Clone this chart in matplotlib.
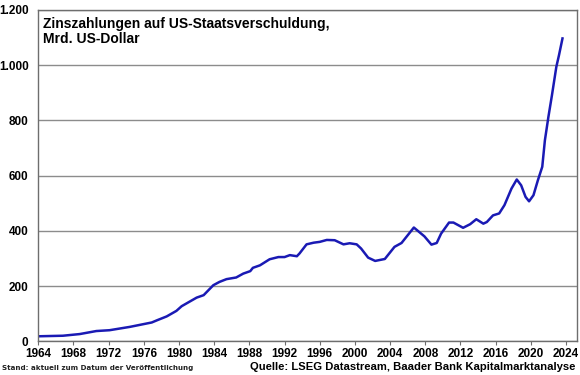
import matplotlib
matplotlib.use("Agg")
import matplotlib.pyplot as plt
from matplotlib.ticker import FuncFormatter

years = [1964, 1966.8, 1968.7, 1970.6, 1972.1, 1974.4, 1976.9, 1977.5, 1978.6, 1979.7,
         1980.3, 1982.0, 1982.8, 1983.9, 1984.6, 1985.4, 1986.5, 1987.3, 1988.1, 1988.4,
         1989.2, 1990.3, 1991.3, 1992.0, 1992.6, 1993.4, 1993.7, 1994.5, 1995.3, 1996.0,
         1996.8, 1997.7, 1998.7, 1999.4, 2000.2, 2000.7, 2001.5, 2002.3, 2003.4, 2004.5,
         2005.3, 2006.0, 2006.7, 2007.9, 2008.7, 2009.3, 2009.8, 2010.7, 2011.2, 2012.3,
         2013.1, 2013.8, 2014.6, 2015.0, 2015.7, 2016.4, 2017.0, 2017.8, 2018.4, 2018.9,
         2019.4, 2019.8, 2020.3, 2020.8, 2021.3, 2021.6, 2022.0, 2022.4, 2022.9, 2023.2,
         2023.6]
values = [18, 20, 26, 37, 40, 52, 68, 76, 90, 110,
          127, 158, 167, 203, 215, 225, 231, 245, 254, 266,
          275, 297, 305, 305, 312, 308, 318, 351, 357, 360,
          367, 366, 351, 355, 351, 336, 303, 291, 298, 342,
          356, 384, 412, 380, 350, 356, 390, 430, 430, 411,
          424, 442, 426, 432, 456, 463, 493, 553, 586, 565,
          523, 507, 529, 583, 632, 728, 813, 891, 994, 1036,
          1097]

x_ticks = list(range(1964, 2025, 4))
y_ticks = [0, 200, 400, 600, 800, 1000, 1200]

title = "Zinszahlungen auf US-Staatsverschuldung,\nMrd. US-Dollar"
note = "Stand: aktuell zum Datum der Veröffentlichung"
source = "Quelle: LSEG Datastream, Baader Bank Kapitalmarktanalyse"

W, H = 580, 375
fig = plt.figure(figsize=(W / 100, H / 100), dpi=100)
ax = fig.add_axes([38.3 / W, (H - 341.25) / H, (577 - 38.3) / W, (341.25 - 10) / H])

ax.plot(years, values, color="#1a1ab4", lw=1.8, solid_joinstyle="round")

ax.set_xlim(1964, 2025.25)
ax.set_ylim(0, 1200)
ax.set_xticks(x_ticks)
ax.set_yticks(y_ticks)
ax.yaxis.set_major_formatter(FuncFormatter(lambda v, p: f"{int(v):,}".replace(",", ".")))
ax.grid(axis="y", color="#8c8c8c", lw=1.0)
ax.set_axisbelow(True)
for s in ax.spines.values():
    s.set_color("#6e6e6e")
    s.set_linewidth(1.0)
ax.tick_params(axis="x", length=3, width=0.8, color="#6e6e6e", pad=2,
               labelsize=8.5)
ax.tick_params(axis="y", length=0, pad=7, labelsize=8.5)
for lab in ax.get_xticklabels() + ax.get_yticklabels():
    lab.set_fontfamily("Liberation Sans")
    lab.set_fontweight("bold")

fig.text(43 / W, 1 - 17 / H, title, fontfamily="Liberation Sans", fontweight="bold",
         fontsize=10, va="top", ha="left", linespacing=1.05)
fig.text(2 / W, 1 - 368 / H, note, fontfamily="DejaVu Sans", fontweight="bold",
         fontsize=5.15, va="center", ha="left", color="#222222")
fig.text(575 / W, 1 - 367 / H, source, fontfamily="Liberation Sans", fontweight="bold",
         fontsize=8.1, va="center", ha="right")

fig.savefig("out.png", dpi=100)
